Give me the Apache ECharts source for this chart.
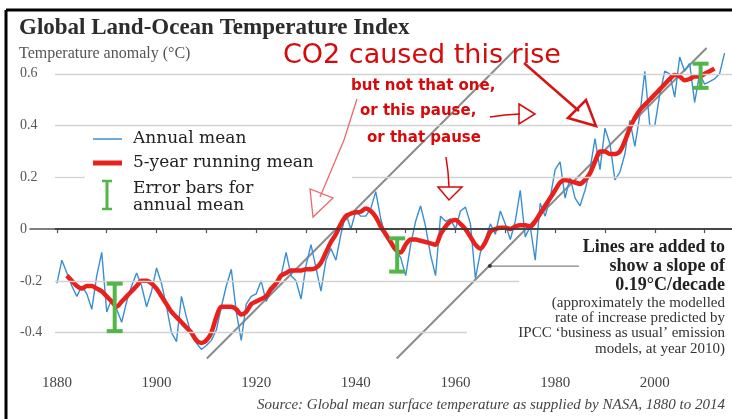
<!DOCTYPE html>
<html>
<head>
<meta charset="utf-8">
<script src="https://cdn.jsdelivr.net/npm/echarts@6.0.0/dist/echarts.min.js"></script>
<style>
html,body{margin:0;padding:0;background:#fff;}
#chart{width:732px;height:419px;}
</style>
</head>
<body>
<div id="chart"></div>
<script>
// ---- data ----
const firstYear = 1880;
const annualMean = [
  -0.21,-0.12,-0.17,-0.22,-0.26,-0.22,-0.25,-0.31,-0.18,-0.09,
  -0.32,-0.27,-0.31,-0.36,-0.28,-0.22,-0.17,-0.22,-0.30,-0.24,
  -0.15,-0.21,-0.30,-0.40,-0.435,-0.26,-0.34,-0.41,-0.44,-0.465,
  -0.45,-0.43,-0.39,-0.30,-0.22,-0.155,-0.32,-0.43,-0.29,-0.26,
  -0.25,-0.20,-0.28,-0.24,-0.22,-0.18,-0.09,-0.18,-0.20,-0.27,
  -0.14,-0.06,-0.15,-0.24,-0.12,-0.075,-0.12,-0.02,0.06,0.00,
  0.07,0.05,0.05,0.08,0.145,0.04,-0.03,-0.06,-0.08,-0.11,
  -0.18,-0.06,0.03,0.09,0.01,-0.10,-0.18,0.05,0.03,0.04,
  0.00,0.07,0.085,0.02,-0.19,-0.09,-0.04,0.02,-0.02,0.07,
  0.02,-0.04,0.03,0.15,-0.03,0.01,-0.12,0.10,0.05,0.12,
  0.23,0.26,0.12,0.20,0.12,0.09,0.15,0.23,0.35,0.23,
  0.39,0.33,0.19,0.22,0.29,0.42,0.32,0.44,0.61,0.40,
  0.40,0.52,0.61,0.60,0.51,0.665,0.61,0.64,0.49,0.60,
  0.56,0.57,0.58,0.60,0.68
];
const runningStart = 1882;
const runningMean = [
  -0.18,-0.20,-0.22,-0.23,-0.22,-0.22,-0.23,-0.24,
  -0.26,-0.28,-0.30,-0.28,-0.26,-0.24,-0.22,-0.20,-0.20,-0.21,
  -0.23,-0.26,-0.29,-0.32,-0.34,-0.36,-0.38,-0.40,-0.43,-0.44,
  -0.43,-0.40,-0.34,-0.30,-0.30,-0.30,-0.31,-0.33,-0.32,-0.29,
  -0.28,-0.27,-0.26,-0.23,-0.21,-0.18,-0.17,-0.16,-0.16,-0.16,
  -0.155,-0.155,-0.15,-0.13,-0.09,-0.05,-0.02,0.02,0.05,0.06,
  0.065,0.067,0.08,0.07,0.047,0.01,-0.02,-0.05,-0.08,-0.09,
  -0.06,-0.04,-0.04,-0.045,-0.05,-0.055,-0.06,-0.02,0.01,0.03,
  0.035,0.02,0.00,-0.03,-0.06,-0.075,-0.05,-0.01,0.00,0.005,
  0.005,0.00,0.01,0.015,0.015,0.01,0.03,0.06,0.09,0.12,
  0.15,0.18,0.19,0.185,0.18,0.175,0.19,0.215,0.26,0.30,
  0.30,0.29,0.29,0.30,0.34,0.39,0.43,0.46,0.48,0.50,
  0.52,0.54,0.56,0.58,0.595,0.59,0.575,0.58,0.59,0.59,
  0.60,0.61,0.62
];
// error bars: [year, low, high]
const errorBars = [[1891.6,-0.40,-0.205],[1948.3,-0.17,-0.03],[2009.2,0.54,0.645]];
// slope lines (0.19 C/decade)
const slopeLine1 = [[1910.1,-0.5],[1972.3,0.70]];
const slopeLine2 = [[1948.2,-0.5],[2010.4,0.70]];
const pointerLine = [[1966.9,-0.143],[1984.8,-0.143]];
const pointerDot = [[1966.9,-0.143]];
const yTicks = [-0.4,-0.2,0,0.2,0.4,0.6];
const xTicks = [1880,1890,1900,1910,1920,1930,1940,1950,1960,1970,1980,1990,2000,2010];
const xLabels = [1880,1900,1920,1940,1960,1980,2000];
// gridline segments [value, fromYear, toYear]
const gridSegments = [
  [0.6,1879.6,2015.5],[0.4,1879.6,2015.5],
  [0.2,1879.6,1885.6],[0.2,1939.2,2015.5],
  [-0.2,1879.6,1972.8],[-0.4,1879.6,1962.3]
];

const annualData = annualMean.map((v,i)=>[firstYear+i,v]);
const runningData = runningMean.map((v,i)=>[runningStart+i,v]);

const chart = echarts.init(document.getElementById('chart'), null, {renderer:'canvas'});
const serif = '"Liberation Serif", serif';
const red = '#d60a0a';

const option = {
  animation:false,
  backgroundColor:'#fff',
  grid:{left:30,right:0,top:35,bottom:60.5},
  xAxis:{
    type:'value',min:1874.6,max:2015.5,
    axisLine:{show:true,lineStyle:{color:'#555',width:1.5}},
    axisTick:{show:true,length:4,customValues:xTicks,lineStyle:{color:'#555',width:1.2}},
    axisLabel:{customValues:xLabels,margin:17,color:'#444',fontFamily:serif,fontSize:15,formatter:v=>String(v)},
    splitLine:{show:false}
  },
  yAxis:{
    type:'value',min:-0.5,max:0.75,
    axisLine:{show:false},axisTick:{show:false},
    axisLabel:{customValues:yTicks,align:'left',margin:10,color:'#555',fontFamily:serif,fontSize:14,
      formatter:v=> v===0?'0':(Math.round(v*10)/10).toFixed(1)},
    splitLine:{show:false}
  },
  series:[
    {
      type:'line',data:[],z:1,silent:true,
      markLine:{silent:true,symbol:'none',label:{show:false},
        lineStyle:{color:'#d2d2d2',width:1.3,type:'solid'},
        data: gridSegments.map(g=>[{coord:[g[1],g[0]]},{coord:[g[2],g[0]]}]).concat([
          [{coord:[1879.6,0],lineStyle:{color:'#333',width:1.6}},{coord:[2015.5,0]}]
        ])
      }
    },
    {type:'line',data:slopeLine1,z:2,symbol:'none',silent:true,lineStyle:{color:'#8c8c8c',width:2}},
    {type:'line',data:slopeLine2,z:2,symbol:'none',silent:true,lineStyle:{color:'#8c8c8c',width:2}},
    {type:'line',data:pointerLine,z:2,symbol:'none',silent:true,lineStyle:{color:'#666',width:1}},
    {type:'scatter',data:pointerDot,z:2,symbol:'circle',symbolSize:4,silent:true,itemStyle:{color:'#222'}},
    {type:'line',data:annualData,z:3,symbol:'none',lineStyle:{color:'#3a8fd3',width:1.4}},
    {type:'line',data:runningData,z:4,symbol:'none',smooth:0.3,lineStyle:{color:'#e8211c',width:4.5}},
    {
      type:'custom',z:5,data:errorBars,
      renderItem:function(params,api){
        const x=api.value(0),lo=api.value(1),hi=api.value(2);
        const a=api.coord([x,lo]),b=api.coord([x,hi]);
        const hw=8, st={stroke:'#52b748',lineWidth:4};
        return {type:'group',children:[
          {type:'line',shape:{x1:a[0],y1:a[1],x2:b[0],y2:b[1]},style:st},
          {type:'line',shape:{x1:a[0]-hw,y1:a[1]-1.5,x2:a[0]+hw,y2:a[1]-1.5},style:st},
          {type:'line',shape:{x1:b[0]-hw,y1:b[1]+1.5,x2:b[0]+hw,y2:b[1]+1.5},style:st}
        ]};
      }
    }
  ],
  graphic:[
    // frame
    {type:'line',shape:{x1:6,y1:10,x2:732,y2:10},style:{stroke:'#000',lineWidth:3},z:100},
    {type:'line',shape:{x1:6,y1:10,x2:6,y2:419},style:{stroke:'#000',lineWidth:3},z:100},
    // title and subtitle
    {type:'text',style:{text:'Global Land-Ocean Temperature Index',x:19,y:28,font:'bold 23px "Liberation Serif"',fill:'#2c2c2c',verticalAlign:'middle'}},
    {type:'text',style:{text:'Temperature anomaly (°C)',x:19,y:54,font:'16px "Liberation Serif"',fill:'#555',verticalAlign:'middle'}},
    // legend
    {type:'line',shape:{x1:93,y1:139,x2:122,y2:139},style:{stroke:'#3a8fd3',lineWidth:1.5}},
    {type:'line',shape:{x1:93,y1:163,x2:122,y2:163},style:{stroke:'#e8211c',lineWidth:5}},
    {type:'line',shape:{x1:107,y1:180,x2:107,y2:210},style:{stroke:'#52b748',lineWidth:3}},
    {type:'line',shape:{x1:102,y1:181,x2:112,y2:181},style:{stroke:'#52b748',lineWidth:2.5}},
    {type:'line',shape:{x1:102,y1:209,x2:112,y2:209},style:{stroke:'#52b748',lineWidth:2.5}},
    {type:'text',style:{text:'Annual mean',x:133,y:139,font:'17px "DejaVu Serif"',fill:'#222',verticalAlign:'middle'}},
    {type:'text',style:{text:'5-year running mean',x:133,y:163,font:'17px "DejaVu Serif"',fill:'#222',verticalAlign:'middle'}},
    {type:'text',style:{text:'Error bars for',x:133,y:189,font:'17px "DejaVu Serif"',fill:'#222',verticalAlign:'middle'}},
    {type:'text',style:{text:'annual mean',x:133,y:206,font:'17px "DejaVu Serif"',fill:'#222',verticalAlign:'middle'}},
    // right text block
    {type:'text',style:{text:'Lines are added to',x:725,y:247,font:'bold 18px "Liberation Serif"',fill:'#222',align:'right',verticalAlign:'middle'}},
    {type:'text',style:{text:'show a slope of',x:725,y:266,font:'bold 18px "Liberation Serif"',fill:'#222',align:'right',verticalAlign:'middle'}},
    {type:'text',style:{text:'0.19°C/decade',x:725,y:285,font:'bold 18px "Liberation Serif"',fill:'#222',align:'right',verticalAlign:'middle'}},
    {type:'text',style:{text:'(approximately the modelled',x:725,y:303,font:'15px "Liberation Serif"',fill:'#333',align:'right',verticalAlign:'middle'}},
    {type:'text',style:{text:'rate of increase predicted by',x:725,y:318,font:'15px "Liberation Serif"',fill:'#333',align:'right',verticalAlign:'middle'}},
    {type:'text',style:{text:'IPCC ‘business as usual’ emission',x:725,y:333,font:'15px "Liberation Serif"',fill:'#333',align:'right',verticalAlign:'middle'}},
    {type:'text',style:{text:'models, at year 2010)',x:725,y:349,font:'15px "Liberation Serif"',fill:'#333',align:'right',verticalAlign:'middle'}},
    // source
    {type:'text',style:{text:'Source: Global mean surface temperature as supplied by NASA, 1880 to 2014',x:725,y:405,font:'italic 15px "Liberation Serif"',fill:'#444',align:'right',verticalAlign:'middle'}},
    // handwritten annotations
    {type:'text',z:50,style:{text:'CO2 caused this rise',x:283,y:56,font:'27px "DejaVu Sans"',fill:red,verticalAlign:'middle'}},
    {type:'text',z:50,style:{text:'but not that one,',x:351,y:86,font:'bold 15px "DejaVu Sans"',fill:red,verticalAlign:'middle'}},
    {type:'text',z:50,style:{text:'or this pause,',x:360,y:111,font:'bold 15px "DejaVu Sans"',fill:red,verticalAlign:'middle'}},
    {type:'text',z:50,style:{text:'or that pause',x:367,y:138,font:'bold 15px "DejaVu Sans"',fill:red,verticalAlign:'middle'}},
    // arrow 1 (thin, pink)
    {type:'polyline',z:50,shape:{points:[[357,99],[344,140],[320,197]]},style:{stroke:'#e86a6a',lineWidth:1.3,fill:null}},
    {type:'polygon',z:50,shape:{points:[[310,189],[313,217],[333,198]]},style:{stroke:'#e86a6a',lineWidth:1.3,fill:null}},
    // arrow 2 (right)
    {type:'polyline',z:50,shape:{points:[[490,117],[505,115],[520,114]]},style:{stroke:red,lineWidth:1.5,fill:null}},
    {type:'polygon',z:50,shape:{points:[[519,104],[535,114],[519,124]]},style:{stroke:red,lineWidth:1.5,fill:null}},
    // arrow 3 (down)
    {type:'polyline',z:50,shape:{points:[[446,157],[448,172],[449,187]]},style:{stroke:red,lineWidth:1.5,fill:null}},
    {type:'polygon',z:50,shape:{points:[[438,187],[449,200],[462,187]]},style:{stroke:red,lineWidth:1.5,fill:null}},
    // arrow 4 (thick)
    {type:'line',z:50,shape:{x1:524,y1:63,x2:579,y2:111},style:{stroke:'#d61414',lineWidth:2.5}},
    {type:'polygon',z:50,shape:{points:[[568,118],[596,126],[586,100]]},style:{stroke:'#d61414',lineWidth:2.5,fill:null}}
  ]
};
chart.setOption(option);
</script>
</body>
</html>
